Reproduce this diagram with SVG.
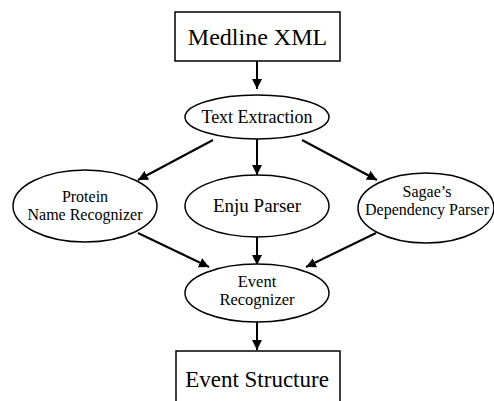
<svg xmlns="http://www.w3.org/2000/svg" width="494" height="401" viewBox="0 0 494 401">
<style>
.box{fill:#fff;stroke:#000;stroke-width:1.5}
.ell{fill:#fff;stroke:#000;stroke-width:1.5}
.t{font-family:"Liberation Serif","Times New Roman",serif;fill:#000;text-anchor:middle}
.edge{stroke:#000;stroke-width:2;fill:none;marker-end:url(#ah)}
</style>
<defs>
<marker id="ah" viewBox="0 0 10 10" refX="10" refY="5" markerWidth="5" markerHeight="5" orient="auto" markerUnits="strokeWidth">
<path d="M0,0 L10,5 L0,10 z" fill="#000"/>
</marker>
</defs>
<rect width="494" height="401" fill="#fff"/>
<g id="connectors">
<line class="edge" x1="257" y1="61" x2="257" y2="89"/>
<line class="edge" x1="213" y1="140" x2="138" y2="180"/>
<line class="edge" x1="257" y1="139" x2="257" y2="175"/>
<line class="edge" x1="302" y1="140" x2="377" y2="180"/>
<line class="edge" x1="138" y1="233" x2="209" y2="267"/>
<line class="edge" x1="257" y1="237" x2="257" y2="265"/>
<line class="edge" x1="376" y1="233" x2="306" y2="267"/>
<line class="edge" x1="257" y1="322" x2="257" y2="350"/>
</g>
<g id="medline">
<rect class="box" x="175" y="12" width="165" height="49"/>
<text class="t" x="257.5" y="45" font-size="24">Medline XML</text>
</g>
<g id="textext">
<ellipse class="ell" cx="257" cy="117" rx="72" ry="22"/>
<text class="t" x="257" y="123" font-size="18">Text Extraction</text>
</g>
<g id="protein">
<ellipse class="ell" cx="85" cy="206" rx="72" ry="36"/>
<text class="t" x="85" y="202" font-size="16">Protein</text>
<text class="t" x="85" y="220" font-size="16">Name Recognizer</text>
</g>
<g id="enju">
<ellipse class="ell" cx="257" cy="206" rx="72" ry="31"/>
<text class="t" x="257" y="212" font-size="19">Enju Parser</text>
</g>
<g id="sagae">
<ellipse class="ell" cx="426" cy="208" rx="68" ry="35"/>
<text class="t" x="427" y="197" font-size="16">Sagae’s</text>
<text class="t" x="427" y="215" font-size="16">Dependency Parser</text>
</g>
<g id="event">
<ellipse class="ell" cx="257" cy="293" rx="72" ry="29"/>
<text class="t" x="257" y="287" font-size="16.5">Event</text>
<text class="t" x="257" y="305" font-size="16.5">Recognizer</text>
</g>
<g id="structure">
<rect class="box" x="176" y="351" width="164" height="60"/>
<text class="t" x="257" y="387" font-size="23">Event Structure</text>
</g>
</svg>
